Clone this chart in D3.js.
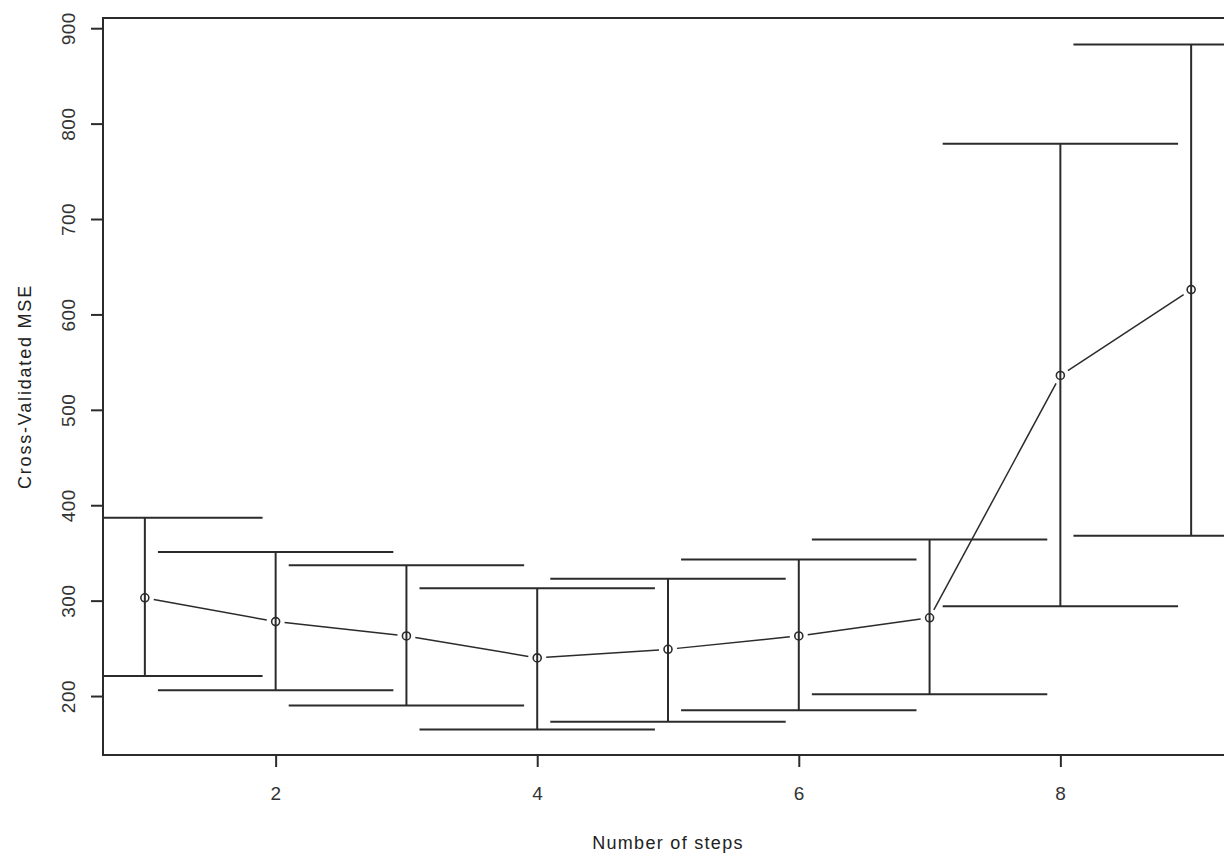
<!DOCTYPE html>
<html>
<head>
<meta charset="utf-8">
<script src="https://cdn.jsdelivr.net/npm/d3@7"></script>
<style>
  body { margin: 0; background: #fff; }
  svg { display: block; font-family: "Liberation Sans", Arial, sans-serif; }
</style>
</head>
<body>
<svg id="chart" width="1224" height="856"></svg>
<script>
// number of steps vs cross-validated MSE, with upper / lower error bars
const steps = [1, 2, 3, 4, 5, 6, 7, 8, 9]
const mse = [303, 278, 263, 240, 249, 263, 282, 536, 626]
const upper = [387, 351, 337, 313, 323, 343, 364, 779, 883]
const lower = [221, 206, 190, 165, 173, 185, 202, 294, 368]
const xTicks = [2, 4, 6, 8]
const yTicks = [200, 300, 400, 500, 600, 700, 800, 900]

const svg = d3.select('#chart')
const boxLeft = 103
const boxTop = 18
const boxBottom = 755
const boxRight = 1233 // R pads the box past the picture edge, so it gets cut

const x = d3.scaleLinear().domain([0.68, 9.32]).range([boxLeft, boxRight])
const y = d3.scaleLinear().domain([138.2, 910.7]).range([boxBottom, boxTop])
const ink = '#2b2b2b'

svg.append('clipPath').attr('id', 'plotClip')
  .append('rect')
  .attr('x', boxLeft).attr('y', boxTop)
  .attr('width', boxRight - boxLeft).attr('height', boxBottom - boxTop)

const plot = svg.append('g').attr('clip-path', 'url(#plotClip)')

// error bars: vertical whisker plus wide caps
const capHalf = 0.9
plot.selectAll('.whisker')
  .data(steps)
  .enter()
  .append('line')
  .attr('x1', (d) => x(d)).attr('x2', (d) => x(d))
  .attr('y1', (d, i) => y(lower[i])).attr('y2', (d, i) => y(upper[i]))
  .attr('stroke', ink).attr('stroke-width', 2)

const caps = []
steps.forEach((s, i) => {
  caps.push({ s: s, v: upper[i] })
  caps.push({ s: s, v: lower[i] })
})
plot.selectAll('.cap')
  .data(caps)
  .enter()
  .append('line')
  .attr('x1', (d) => x(d.s - capHalf)).attr('x2', (d) => x(d.s + capHalf))
  .attr('y1', (d) => y(d.v)).attr('y2', (d) => y(d.v))
  .attr('stroke', ink).attr('stroke-width', 2)

// type = "b": line segments with gaps around the points
const gap = 9
for (let i = 0; i < steps.length - 1; i++) {
  const x0 = x(steps[i]), y0 = y(mse[i])
  const x1 = x(steps[i + 1]), y1 = y(mse[i + 1])
  const len = Math.hypot(x1 - x0, y1 - y0)
  const ux = (x1 - x0) / len, uy = (y1 - y0) / len
  plot.append('line')
    .attr('x1', x0 + ux * gap).attr('y1', y0 + uy * gap)
    .attr('x2', x1 - ux * gap).attr('y2', y1 - uy * gap)
    .attr('stroke', ink).attr('stroke-width', 1.5)
}

plot.selectAll('.pt')
  .data(steps)
  .enter()
  .append('circle')
  .attr('cx', (d) => x(d))
  .attr('cy', (d, i) => y(mse[i]))
  .attr('r', 4)
  .attr('fill', 'none')
  .attr('stroke', ink).attr('stroke-width', 1.6)

// box
svg.append('rect')
  .attr('x', boxLeft).attr('y', boxTop)
  .attr('width', boxRight - boxLeft).attr('height', boxBottom - boxTop)
  .attr('fill', 'none').attr('stroke', ink).attr('stroke-width', 2)

// axes
const xAxis = svg.append('g')
  .attr('transform', `translate(0,${boxBottom})`)
  .call(d3.axisBottom(x).tickValues(xTicks).tickSize(12).tickPadding(20).tickFormat(d3.format('d')))
xAxis.select('.domain').remove()

const yAxis = svg.append('g')
  .attr('transform', `translate(${boxLeft},0)`)
  .call(d3.axisLeft(y).tickValues(yTicks).tickSize(12).tickFormat(d3.format('d')))
yAxis.select('.domain').remove()

svg.selectAll('.tick line').attr('stroke', ink).attr('stroke-width', 2)
svg.selectAll('.tick text')
  .attr('fill', '#333')
  .style('font-size', '19px')
  .style('letter-spacing', '0.5px')
  .style('font-family', '"Liberation Sans", Arial, sans-serif')

yAxis.selectAll('.tick text')
  .attr('x', null).attr('dy', null)
  .attr('text-anchor', 'middle')
  .attr('transform', 'translate(-35,0) rotate(-90)')
  .attr('dy', '0.35em')

// titles
svg.append('text')
  .attr('x', (boxLeft + boxRight) / 2)
  .attr('y', 849)
  .attr('text-anchor', 'middle')
  .attr('fill', '#222')
  .style('font-size', '18px')
  .style('letter-spacing', '1.3px')
  .text('Number of steps')

svg.append('text')
  .attr('transform', `translate(31,${(boxTop + boxBottom) / 2}) rotate(-90)`)
  .attr('text-anchor', 'middle')
  .attr('fill', '#222')
  .style('font-size', '18px')
  .style('letter-spacing', '1.8px')
  .text('Cross-Validated MSE')
</script>
</body>
</html>
